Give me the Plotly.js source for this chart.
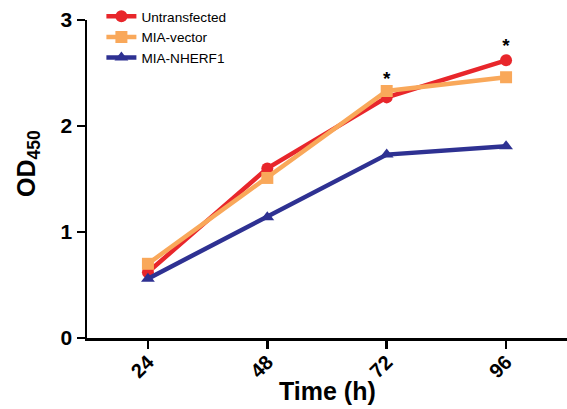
<!DOCTYPE html>
<html><head><meta charset="utf-8">
<script src="https://cdn.plot.ly/plotly-3.0.1.min.js"></script>
<style>html,body{margin:0;padding:0;background:#fff}#chart{width:567px;height:409px}</style>
</head><body><div id="chart"></div>
<script>
const timeH = [24, 48, 72, 96];
const untransfected = [0.62, 1.60, 2.27, 2.62];
const miaVector = [0.70, 1.51, 2.33, 2.46];
const miaNherf1 = [0.56, 1.14, 1.73, 1.81];
const starX = [72, 96];
const starY = [2.43, 2.74];
const seriesNames = ['Untransfected', 'MIA-vector', 'MIA-NHERF1'];
const xTickLabels = ['24', '48', '72', '96'];
const yTickVals = [0, 1, 2, 3];
const xTitle = 'Time (h)';
const yTitle = 'OD<sub>450</sub>';

const traces = [
  {x: timeH, y: untransfected, name: seriesNames[0], mode: 'lines+markers',
   line: {color: '#e8262b', width: 4.5}, marker: {symbol: 'circle', size: 12, color: '#e8262b'}},
  {x: timeH, y: miaVector, name: seriesNames[1], mode: 'lines+markers',
   line: {color: '#f9a85a', width: 4.5}, marker: {symbol: 'square', size: 12, color: '#f9a85a'}},
  {x: timeH, y: miaNherf1, name: seriesNames[2], mode: 'lines+markers',
   line: {color: '#2e3192', width: 4.5}, marker: {symbol: 'triangle-up', size: 12, color: '#2e3192'}},
  {x: starX, y: starY, mode: 'text', text: starX.map(() => '<b>*</b>'), showlegend: false, hoverinfo: 'skip',
   textfont: {family: 'Liberation Sans, Arial', size: 19, color: '#000'}}
];

const layout = {
  width: 567, height: 409,
  margin: {l: 87, r: 0, t: 20, b: 71},
  paper_bgcolor: '#fff', plot_bgcolor: '#fff',
  font: {family: 'Liberation Sans, Arial, sans-serif', color: '#000'},
  xaxis: {
    range: [11.75, 108.25], tickvals: timeH, ticktext: xTickLabels, tickangle: -45,
    showgrid: false, zeroline: false, showline: true, linecolor: '#000', linewidth: 2.5,
    ticks: 'outside', ticklen: 8, tickwidth: 2.5, tickcolor: '#000', ticklabelstandoff: -6,
    tickfont: {size: 20, family: 'Liberation Sans, Arial', weight: 'bold'}
  },
  yaxis: {
    range: [0, 3], tickvals: yTickVals, showgrid: false, zeroline: false,
    showline: true, linecolor: '#000', linewidth: 2.5,
    ticks: 'outside', ticklen: 8, tickwidth: 2.5, tickcolor: '#000',
    tickfont: {size: 21, family: 'Liberation Sans, Arial', weight: 'bold'}
  },
  annotations: [
    {text: '<b>' + xTitle + '</b>', xref: 'paper', yref: 'paper', x: 0.5, y: -0.167,
     xanchor: 'center', yanchor: 'middle', showarrow: false, font: {size: 25}},
    {text: '<b>' + yTitle + '</b>', xref: 'paper', yref: 'paper', x: -0.123, y: 0.55,
     xanchor: 'center', yanchor: 'middle', textangle: -90, showarrow: false, font: {size: 25}}
  ],
  legend: {x: 0.03, y: 1.06, xanchor: 'left', yanchor: 'top', bgcolor: 'rgba(0,0,0,0)',
    font: {size: 13.6}, tracegroupgap: 0, itemwidth: 30},
  showlegend: true
};
Plotly.newPlot('chart', traces, layout, {displayModeBar: false, staticPlot: true});
</script></body></html>
